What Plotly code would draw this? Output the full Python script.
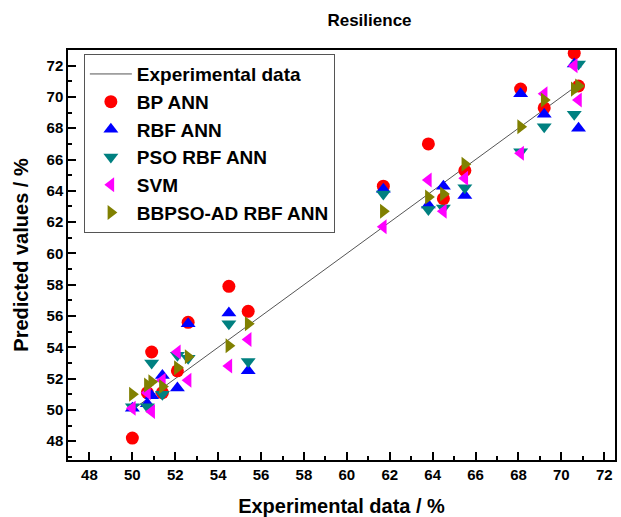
import plotly.graph_objects as go

# experimental resilience values (%), one per sample
experimental = [50.0, 50.7, 50.9, 51.4, 52.1, 52.6, 54.5, 55.4,
                61.7, 63.8, 64.5, 65.5, 68.1, 69.2, 70.6, 70.8]

# model predictions (%), same order as experimental
bp_ann = [48.2, 51.1, 53.7, 51.1, 52.5, 55.6, 57.9, 56.3,
          64.3, 67.0, 63.5, 65.3, 70.5, 69.3, 72.8, 70.7]
rbf_ann = [50.1, 50.4, 50.9, 52.2, 51.4, 55.5, 56.2, 52.5,
           64.1, 63.1, 64.3, 63.7, 70.2, 68.9, 72.1, 68.0]
pso_rbf_ann = [50.2, 50.2, 53.0, 51.0, 53.5, 53.3, 55.5, 53.1,
               63.8, 62.8, 62.9, 64.2, 66.5, 68.1, 68.9, 72.1]
svm = [50.1, 51.1, 49.9, 51.9, 53.7, 51.9, 52.8, 54.5,
       61.7, 64.7, 62.7, 64.8, 66.4, 70.2, 72.0, 69.8]
bbpso_ad_rbf_ann = [51.0, 51.6, 51.8, 51.5, 52.7, 53.4, 54.1, 55.5,
                    62.7, 63.6, 63.8, 65.7, 68.1, 69.8, 70.5, 70.7]

# tick values shared by both axes
tick_values = [48, 50, 52, 54, 56, 58, 60, 62, 64, 66, 68, 70, 72]

series = [
    ("BP ANN", bp_ann, "circle", "#FF0000"),
    ("RBF ANN", rbf_ann, "triangle-up", "#0000FF"),
    ("PSO RBF ANN", pso_rbf_ann, "triangle-down", "#008080"),
    ("SVM", svm, "triangle-left", "#FF00FF"),
    ("BBPSO-AD RBF ANN", bbpso_ad_rbf_ann, "triangle-right", "#808000"),
]

font_family = "Liberation Sans, Arial, sans-serif"

fig = go.Figure()

line_x = sorted(experimental)
fig.add_trace(go.Scatter(
    x=line_x,
    y=line_x,
    mode="lines",
    name="Experimental data",
    line=dict(color="#555555", width=1),
))

for name, values, symbol, color in series:
    fig.add_trace(go.Scatter(
        x=experimental,
        y=values,
        mode="markers",
        name=name,
        marker=dict(symbol=symbol, color=color, size=13, line=dict(width=0)),
    ))

tick_text = ["<b>%d</b>" % v for v in tick_values]

axis_common = dict(
    showline=True,
    linecolor="black",
    linewidth=1.5,
    mirror=True,
    ticks="inside",
    ticklen=8,
    tickwidth=1.5,
    tickcolor="black",
    showgrid=False,
    zeroline=False,
    automargin=False,
    tickvals=tick_values,
    ticktext=tick_text,
    tickfont=dict(family=font_family, size=15, color="black", weight="bold"),
    minor=dict(dtick=1, tick0=48, ticks="inside", ticklen=4, tickcolor="black", tickwidth=1.5),
)

fig.update_xaxes(
    range=[47, 72.5],
    title=dict(text="Experimental data / %", standoff=18,
               font=dict(family=font_family, size=20, color="black", weight="bold")),
    **axis_common,
)
fig.update_yaxes(
    range=[46.8, 73],
    title=dict(text="Predicted values / %", standoff=13,
               font=dict(family=font_family, size=20, color="black", weight="bold")),
    **axis_common,
)

fig.update_layout(
    width=621,
    height=517,
    margin=dict(l=68, r=6, t=50, b=57, autoexpand=False),
    paper_bgcolor="white",
    plot_bgcolor="white",
    title=dict(
        text="Resilience",
        x=0.595,
        xref="container",
        xanchor="center",
        y=0.961,
        yref="container",
        yanchor="middle",
        automargin=False,
        font=dict(family=font_family, size=17, color="black", weight="bold"),
    ),
    legend=dict(
        x=0.029,
        y=0.99,
        xanchor="left",
        yanchor="top",
        bordercolor="#555555",
        borderwidth=1,
        bgcolor="white",
        font=dict(family=font_family, size=19, color="black", weight="bold"),
        tracegroupgap=0,
        itemwidth=42,
    ),
    font=dict(family=font_family, color="black"),
)

# drop the browser's default 8px body margin so the figure sits at the page corner
fig.write_html(
    "out.html",
    config={"displayModeBar": False},
    post_script="document.body.style.margin='0';",
)
